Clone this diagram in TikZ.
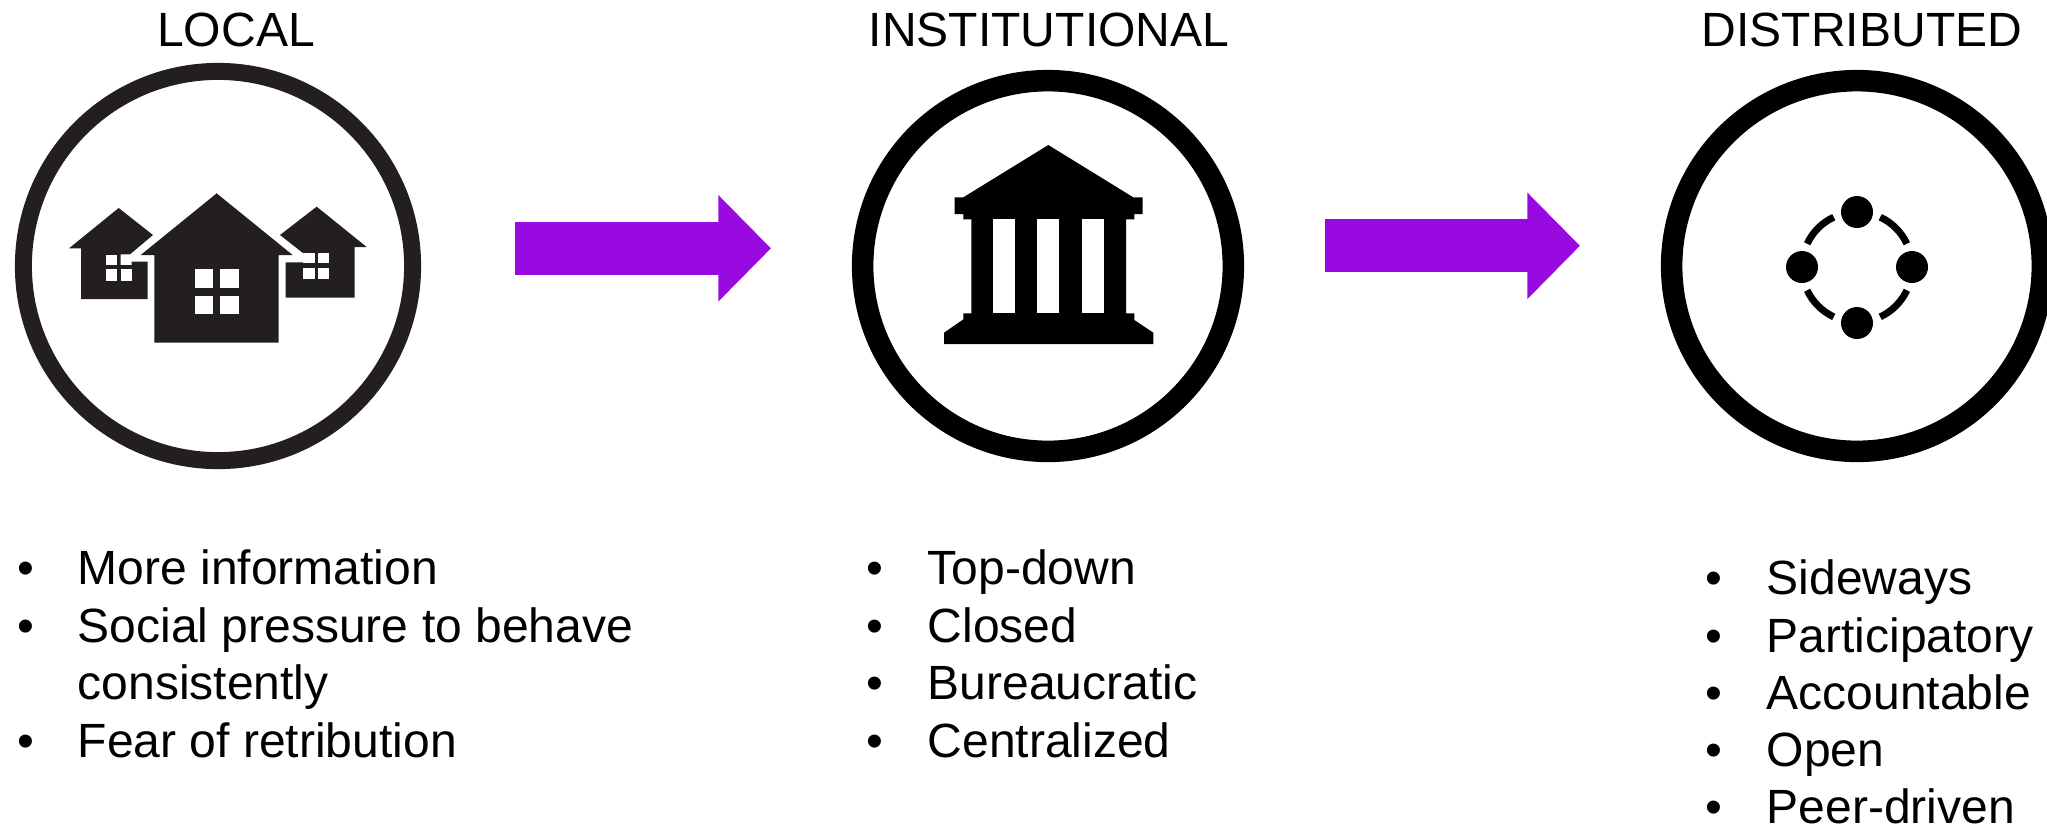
\documentclass[tikz,border=0pt]{standalone}
\usepackage{fontspec}
\setmainfont{Liberation Sans}
\usetikzlibrary{arrows.meta}
\definecolor{housegray}{HTML}{231F20}
\definecolor{arrowpurple}{HTML}{990AE0}
\tikzset{
  ring/.style={circle,draw,inner sep=0pt,line width=0.215cm,minimum size=3.705cm},
  heading/.style={font=\fontsize{13.66}{16}\selectfont,anchor=base},
  itemtext/.style={font=\fontsize{13.66}{16}\selectfont,anchor=base west,inner sep=0pt},
  itembullet/.style={font=\fontsize{13.66}{16}\selectfont,anchor=base,inner sep=0pt},
  bigarrow/.style={arrowpurple,line width=0.53cm,-{Triangle[length=0.525cm,width=1.03cm]}},
}
\begin{document}
\begin{tikzpicture}[x=0.01cm,y=-0.01cm]
    \useasboundingbox (0,0) rectangle (2047,829);
    \clip (0,0) rectangle (2047,829);

    % Local
    \node (local) [ring,draw=housegray,line width=0.17cm,minimum size=3.89cm] at (218,266) {};
    \node (locallabel) [heading] at (236,46) {LOCAL};
    \begin{scope}[shift={(0,50)},x=0.01cm/3,y=-0.01cm/3]
    \fill[housegray] (356,474) -- (459,555) -- (390,613) -- (362,613) -- (362,645) -- (395,645) -- (395,635) -- (443,635) -- (443,747) -- (243,747) -- (243,595) -- (207,595) -- cycle;
    \fill[housegray] (950,470) -- (1100,591) -- (1064,591) -- (1064,743) -- (857,743) -- (857,637) -- (910,637) -- (910,610) -- (840,555) -- cycle;
    \fill[housegray] (650,430) -- (878,615) -- (836,615) -- (836,878) -- (463,878) -- (463,615) -- (422,615) -- cycle;
    \foreach \x/\y/\w/\h in {585/658/55/57,660/658/57/57,585/738/55/55,660/738/57/55,318/614/34/31,318/658/34/34,362/658/33/34,910/610/35/30,955/610/33/30,910/655/35/33,955/655/33/33}
      \fill[white] (\x,\y) rectangle ++(\w,\h);
    \end{scope}

    % Institutional
    \node (institutional) [ring] at (1048,266) {};
    \node (institutionallabel) [heading] at (1049,46) {INSTITUTIONAL};
    \begin{scope}[shift={(900,120)},x=0.01cm/3,y=-0.01cm/3]
    \fill (445,75) -- (700,232) -- (728,232) -- (728,282) -- (703,282) -- (703,298) -- (678,298) -- (678,580) -- (703,580) -- (703,600) -- (760,638) -- (760,672) -- (132,672) -- (132,638) -- (190,598) -- (190,580) -- (214,580) -- (214,298) -- (190,298) -- (190,282) -- (164,282) -- (164,232) -- (190,232) -- cycle;
    \foreach \x in {280,412,545}
      \fill[white] (\x,298) rectangle ++(66,282);
    \end{scope}

    % Distributed
    \node (distributed) [ring] at (1857,266) {};
    \node (distributedlabel) [heading] at (1862,46) {DISTRIBUTED};
    \foreach \a/\b in {25/65,115/155,205/245,295/335}
      \draw[line width=0.07cm] (1857,267) ++(\a:55) arc[start angle=\a,end angle=\b,radius=55];
    \foreach \x/\y in {1857/212,1802/267,1912/267,1857/323}
      \fill (\x,\y) circle[radius=16];

    % Arrows
    \coordinate (arrowAstart) at (515,248.3);
    \coordinate (arrowAend) at (771,248.3);
    \coordinate (arrowBstart) at (1325,245.8);
    \coordinate (arrowBend) at (1580,245.8);
    \draw[bigarrow] (arrowAstart) -- (arrowAend);
    \draw[bigarrow] (arrowBstart) -- (arrowBend);

    % Lists
    \foreach \y/\t [count=\i] in {584/More information,642/Social pressure to behave,699/consistently,757/Fear of retribution}
      \node (localitem\i) [itemtext] at (77,\y) {\t};
    \foreach \y [count=\i] in {584,642,757}
      \node (localbullet\i) [itembullet] at (26,\y) {•};

    \foreach \y/\t [count=\i] in {584/Top-down,642/Closed,699/Bureaucratic,757/Centralized}
      \node (institutionalitem\i) [itemtext] at (927,\y) {\t};
    \foreach \y [count=\i] in {584,642,699,757}
      \node (institutionalbullet\i) [itembullet] at (875,\y) {•};

    \foreach \y/\t [count=\i] in {594/Sideways,652/Participatory,709/Accountable,766/Open,823/Peer-driven}
      \node (distributeditem\i) [itemtext] at (1766,\y) {\t};
    \foreach \y [count=\i] in {594,652,709,766,823}
      \node (distributedbullet\i) [itembullet] at (1714,\y) {•};
\end{tikzpicture}
\end{document}
